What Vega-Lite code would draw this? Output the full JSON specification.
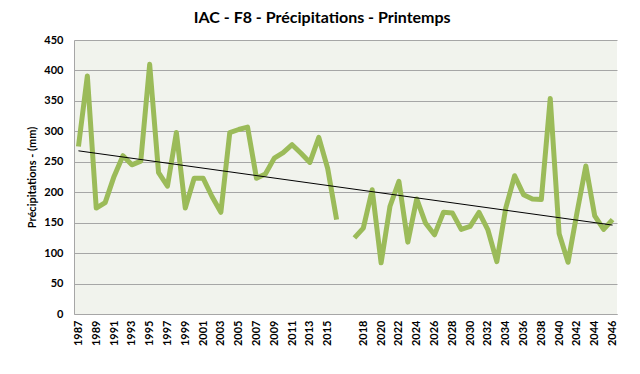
{
  "$schema": "https://vega.github.io/schema/vega-lite/v6.json",
  "width": 543,
  "height": 274,
  "autosize": {"type": "none"},
  "padding": {"left": 74, "top": 40, "right": 23, "bottom": 60},
  "background": "white",
  "config": {
    "font": "Lato",
    "view": {"fill": "#f1f3ed", "stroke": null}
  },
  "title": {
    "text": "IAC - F8 - Précipitations - Printemps",
    "font": "Lato",
    "fontSize": 16,
    "fontWeight": "bold",
    "color": "#000000",
    "anchor": "middle",
    "frame": "bounds",
    "offset": 8
  },
  "datasets": {
    "precip": [
      {"yr": "1987", "v": 275, "s": "a"},
      {"yr": "1988", "v": 391, "s": "a"},
      {"yr": "1989", "v": 174, "s": "a"},
      {"yr": "1990", "v": 183, "s": "a"},
      {"yr": "1991", "v": 226, "s": "a"},
      {"yr": "1992", "v": 260, "s": "a"},
      {"yr": "1993", "v": 245, "s": "a"},
      {"yr": "1994", "v": 251, "s": "a"},
      {"yr": "1995", "v": 410, "s": "a"},
      {"yr": "1996", "v": 232, "s": "a"},
      {"yr": "1997", "v": 210, "s": "a"},
      {"yr": "1998", "v": 298, "s": "a"},
      {"yr": "1999", "v": 174, "s": "a"},
      {"yr": "2000", "v": 223, "s": "a"},
      {"yr": "2001", "v": 223, "s": "a"},
      {"yr": "2002", "v": 193, "s": "a"},
      {"yr": "2003", "v": 167, "s": "a"},
      {"yr": "2004", "v": 298, "s": "a"},
      {"yr": "2005", "v": 303, "s": "a"},
      {"yr": "2006", "v": 307, "s": "a"},
      {"yr": "2007", "v": 223, "s": "a"},
      {"yr": "2008", "v": 230, "s": "a"},
      {"yr": "2009", "v": 256, "s": "a"},
      {"yr": "2010", "v": 265, "s": "a"},
      {"yr": "2011", "v": 278, "s": "a"},
      {"yr": "2012", "v": 264, "s": "a"},
      {"yr": "2013", "v": 249, "s": "a"},
      {"yr": "2014", "v": 290, "s": "a"},
      {"yr": "2015", "v": 239, "s": "a"},
      {"yr": "2016", "v": 155, "s": "a"},
      {"yr": "2017", "v": 125, "s": "b"},
      {"yr": "2018", "v": 141, "s": "b"},
      {"yr": "2019", "v": 204, "s": "b"},
      {"yr": "2020", "v": 84, "s": "b"},
      {"yr": "2021", "v": 177, "s": "b"},
      {"yr": "2022", "v": 218, "s": "b"},
      {"yr": "2023", "v": 118, "s": "b"},
      {"yr": "2024", "v": 189, "s": "b"},
      {"yr": "2025", "v": 149, "s": "b"},
      {"yr": "2026", "v": 130, "s": "b"},
      {"yr": "2027", "v": 167, "s": "b"},
      {"yr": "2028", "v": 166, "s": "b"},
      {"yr": "2029", "v": 139, "s": "b"},
      {"yr": "2030", "v": 144, "s": "b"},
      {"yr": "2031", "v": 167, "s": "b"},
      {"yr": "2032", "v": 138, "s": "b"},
      {"yr": "2033", "v": 86, "s": "b"},
      {"yr": "2034", "v": 174, "s": "b"},
      {"yr": "2035", "v": 227, "s": "b"},
      {"yr": "2036", "v": 196, "s": "b"},
      {"yr": "2037", "v": 189, "s": "b"},
      {"yr": "2038", "v": 188, "s": "b"},
      {"yr": "2039", "v": 354, "s": "b"},
      {"yr": "2040", "v": 132, "s": "b"},
      {"yr": "2041", "v": 85, "s": "b"},
      {"yr": "2042", "v": 166, "s": "b"},
      {"yr": "2043", "v": 243, "s": "b"},
      {"yr": "2044", "v": 161, "s": "b"},
      {"yr": "2045", "v": 139, "s": "b"},
      {"yr": "2046", "v": 155, "s": "b"}
    ],
    "trend": [
      {"yr": "1987", "v": 268},
      {"yr": "2046", "v": 146}
    ]
  },
  "encoding": {
    "x": {
      "field": "yr",
      "type": "ordinal",
      "sort": null,
      "scale": {
        "domain": ["1987","1988","1989","1990","1991","1992","1993","1994","1995","1996","1997","1998","1999","2000","2001","2002","2003","2004","2005","2006","2007","2008","2009","2010","2011","2012","2013","2014","2015","2016"," ","2017","2018","2019","2020","2021","2022","2023","2024","2025","2026","2027","2028","2029","2030","2031","2032","2033","2034","2035","2036","2037","2038","2039","2040","2041","2042","2043","2044","2045","2046"],
        "type": "point",
        "padding": 0.5
      },
      "axis": {
        "title": null,
        "values": ["1987","1989","1991","1993","1995","1997","1999","2001","2003","2005","2007","2009","2011","2013","2015"," ","2018","2020","2022","2024","2026","2028","2030","2032","2034","2036","2038","2040","2042","2044","2046"],
        "labelAngle": -90,
        "labelAlign": "right",
        "labelBaseline": "middle",
        "labelFont": "Lato",
        "labelFontSize": 11,
        "labelFontWeight": "bold",
        "labelColor": "#000000",
        "labelPadding": 6,
        "ticks": false,
        "domain": true,
        "domainColor": "#a6a6a6",
        "grid": false
      }
    },
    "y": {
      "field": "v",
      "type": "quantitative",
      "scale": {"domain": [0, 450], "nice": false},
      "axis": {
        "title": "Précipitations - (mm)",
        "titleFont": "Lato",
        "titleFontSize": 11,
        "titleFontWeight": "bold",
        "titleColor": "#000000",
        "titlePadding": 6,
        "values": [0, 50, 100, 150, 200, 250, 300, 350, 400, 450],
        "labelFont": "Lato",
        "labelFontSize": 11,
        "labelFontWeight": "bold",
        "labelColor": "#000000",
        "labelPadding": 11,
        "ticks": false,
        "domain": true,
        "domainColor": "#a6a6a6",
        "grid": true,
        "gridColor": "#a6a6a6",
        "gridWidth": 1
      }
    }
  },
  "layer": [
    {
      "data": {"name": "precip"},
      "mark": {"type": "line", "color": "#9bbb59", "strokeWidth": 5, "strokeJoin": "round"},
      "encoding": {"detail": {"field": "s", "type": "nominal"}}
    },
    {
      "data": {"name": "trend"},
      "mark": {"type": "line", "color": "#000000", "strokeWidth": 1},
      "encoding": {}
    }
  ]
}
